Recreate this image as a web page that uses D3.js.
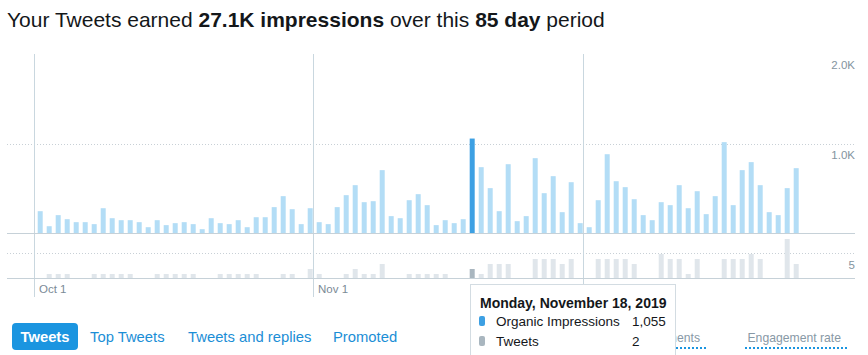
<!DOCTYPE html>
<html>
<head>
<meta charset="utf-8">
<script src="https://cdn.jsdelivr.net/npm/d3@7"></script>
<style>
  html, body { margin: 0; padding: 0; background: #fff; }
  svg { display: block; font-family: "Liberation Sans", Helvetica, Arial, sans-serif; }
</style>
</head>
<body>
<svg id="chart" width="868" height="355"></svg>
<script>
// ---------- data ----------
const startDate = new Date(2019, 9, 1);   // Oct 1, 2019
const dayCount = 85;
const impressions = [
  248, 81, 204, 159, 126, 126, 104, 281, 170, 148, 148, 126, 70, 148, 93, 115, 126, 104, 48, 170,
  115, 104, 148, 70, 181, 181, 293, 415, 270, 104, 281, 126, 104, 293, 426, 537, 348, 359, 704, 193,
  170, 370, 437, 315, 93, 148, 115, 159, 1055, 737, 504, 248, 770, 137, 193, 837, 448, 637, 237, 570,
  115, 70, 370, 881, 581, 515, 381, 204, 148, 348, 315, 537, 281, 470, 215, 415, 1015, 315, 704, 793,
  537, 237, 204, 504, 726
];
const tweets = [
  0, 1, 1, 1, 0, 0, 1, 1, 1, 1, 1, 0, 0, 1, 1, 1, 1, 1, 0, 0,
  1, 1, 1, 1, 1, 0, 0, 1, 1, 0, 2, 1, 0, 0, 1, 2, 1, 1, 3, 0,
  0, 1, 1, 1, 1, 1, 0, 0, 2, 1, 3, 3, 3, 0, 0, 4, 4, 4, 3, 4,
  0, 0, 4, 4, 4, 4, 3, 0, 0, 5, 4, 4, 1, 4, 0, 0, 4, 4, 4, 5,
  4, 0, 0, 8, 3
];
const impTicks = [1000, 2000];
const tweetTicks = [5];
const selectedIndex = 48;
const tabs = ["Tweets", "Top Tweets", "Tweets and replies", "Promoted"];
const metricLinks = ["Engagements", "Engagement rate"];

// ---------- scales ----------
const dates = d3.timeDay.range(startDate, d3.timeDay.offset(startDate, dayCount));
const svg = d3.select("#chart");
const left = 7, right = 855;
const xt = d3.scaleTime().domain([startDate, d3.timeDay.offset(startDate, dayCount)]).range([35, 800]);
const xb = d3.scaleBand().domain(dates.map(d => +d)).range([35, 800]).paddingInner(4 / 9).paddingOuter(2 / 9);
const yImp = d3.scaleLinear().domain([0, 2000]).range([233.5, 53.5]);
const yTw = d3.scaleLinear().domain([0, 5]).range([279, 254]);

// ---------- title ----------
const title = svg.append("text").attr("x", 7).attr("y", 27)
  .attr("font-size", 21).attr("fill", "#14171a");
title.append("tspan").text("Your Tweets earned ");
title.append("tspan").attr("font-weight", "bold").text(d3.format(".3~s")(d3.sum(impressions)).replace("k", "K") + " impressions");
title.append("tspan").text(" over this ");
title.append("tspan").attr("font-weight", "bold").text(dayCount + " day");
title.append("tspan").text(" period");

// ---------- grid ----------
svg.append("g").selectAll("line").data(impTicks.filter(t => t < 2000)).join("line")
  .attr("x1", left).attr("x2", right)
  .attr("y1", d => Math.round(yImp(d)) + 0.5).attr("y2", d => Math.round(yImp(d)) + 0.5)
  .attr("stroke", "#c8d0d6").attr("stroke-dasharray", "1,2");
svg.append("g").selectAll("line").data(tweetTicks).join("line")
  .attr("x1", left).attr("x2", right)
  .attr("y1", d => Math.round(yTw(d)) - 0.5).attr("y2", d => Math.round(yTw(d)) - 0.5)
  .attr("stroke", "#c8d0d6").attr("stroke-dasharray", "1,2");

// month lines
const months = xt.ticks(d3.timeMonth.every(1));
svg.append("g").selectAll("line").data(months).join("line")
  .attr("x1", d => Math.round(xt(d)) - 0.5).attr("x2", d => Math.round(xt(d)) - 0.5)
  .attr("y1", 54).attr("y2", 297)
  .attr("stroke", "#c9d7df").attr("stroke-width", 1);
svg.append("g").selectAll("text").data(months).join("text")
  .attr("x", d => xt(d) + 4).attr("y", 293)
  .attr("font-size", 11.5).attr("fill", "#7b8a96")
  .text(d3.timeFormat("%b %-d"));

// ---------- bars ----------
svg.append("g").selectAll("rect").data(impressions).join("rect")
  .attr("x", (d, i) => xb(+dates[i]) + 0.7)
  .attr("width", xb.bandwidth())
  .attr("y", d => yImp(d))
  .attr("height", d => yImp(0) - 0.5 - yImp(d))
  .attr("fill", (d, i) => i === selectedIndex ? "#3da0e3" : "#b3ddf6");

svg.append("g").selectAll("rect").data(tweets).join("rect")
  .attr("x", (d, i) => xb(+dates[i]) + 0.7)
  .attr("width", xb.bandwidth())
  .attr("y", d => yTw(d))
  .attr("height", d => Math.max(0, 278 - yTw(d)))
  .attr("fill", (d, i) => i === selectedIndex ? "#a9b6bf" : "#e0e6eb");

// baselines
svg.append("line").attr("x1", left).attr("x2", right).attr("y1", 233.5).attr("y2", 233.5)
  .attr("stroke", "#c6d1d8").attr("stroke-width", 1.2);
svg.append("line").attr("x1", left).attr("x2", right).attr("y1", 278.5).attr("y2", 278.5)
  .attr("stroke", "#c6d1d8").attr("stroke-width", 1.2);

// axis labels
svg.append("g").selectAll("text").data(impTicks).join("text")
  .attr("x", 855).attr("y", d => yImp(d) + 15).attr("text-anchor", "end")
  .attr("font-size", 11.5).attr("fill", "#8494a0")
  .text(d => d3.format(".1f")(d / 1000) + "K");
svg.append("g").selectAll("text").data(tweetTicks).join("text")
  .attr("x", 855).attr("y", d => yTw(d) + 15).attr("text-anchor", "end")
  .attr("font-size", 11.5).attr("fill", "#8494a0")
  .text(d => d);

// ---------- tabs ----------
svg.append("rect").attr("x", 12).attr("y", 323).attr("width", 66).attr("height", 27).attr("rx", 4)
  .attr("fill", "#1b95e0");
const tabX = [45, 90, 188, 333];
svg.append("g").selectAll("text").data(tabs).join("text")
  .attr("x", (d, i) => tabX[i]).attr("y", 342)
  .attr("text-anchor", (d, i) => i === 0 ? "middle" : "start")
  .attr("font-size", 14.8)
  .attr("font-weight", (d, i) => i === 0 ? "bold" : "normal")
  .attr("fill", (d, i) => i === 0 ? "#ffffff" : "#1b8ed6")
  .text(d => d);

// metric links (first one partly hidden behind the tooltip, as in the original)
svg.append("defs").append("clipPath").attr("id", "linkClip")
  .append("rect").attr("x", 676).attr("y", 300).attr("width", 192).attr("height", 55);
const linkRight = [700, 841];
const linkG = svg.append("g").attr("clip-path", "url(#linkClip)")
  .selectAll("g").data(metricLinks).join("g");
linkG.append("text").attr("x", (d, i) => linkRight[i]).attr("y", 342).attr("text-anchor", "end")
  .attr("font-size", 12.2).attr("fill", "#8899a6").text(d => d);
linkG.append("line")
  .attr("x1", (d, i) => i === 0 ? 620 : 745).attr("x2", (d, i) => i === 0 ? 706 : 847)
  .attr("y1", 348).attr("y2", 348)
  .attr("stroke", "#1b95e0").attr("stroke-width", 2).attr("stroke-dasharray", "2,2");

// ---------- tooltip ----------
const tip = svg.append("g");
tip.append("rect").attr("x", 470.5).attr("y", 284.5).attr("width", 205).attr("height", 90)
  .attr("fill", "#fff").attr("stroke", "#d3dce2");
tip.append("text").attr("x", 480).attr("y", 308).attr("font-size", 14).attr("font-weight", "bold")
  .attr("fill", "#14171a").text(d3.timeFormat("%A, %B %-d, %Y")(dates[selectedIndex]));
const rows = [
  { label: "Organic Impressions", value: d3.format(",")(impressions[selectedIndex]), color: "#3da0e3" },
  { label: "Tweets", value: d3.format(",")(tweets[selectedIndex]), color: "#a9b6bf" }
];
const row = tip.selectAll("g.row").data(rows).join("g").attr("class", "row")
  .attr("transform", (d, i) => `translate(0,${321 + i * 20})`);
row.append("rect").attr("x", 479).attr("y", -5).attr("width", 6).attr("height", 10).attr("rx", 2)
  .attr("fill", d => d.color);
row.append("text").attr("x", 496).attr("y", 5).attr("font-size", 13.5).attr("fill", "#14171a").text(d => d.label);
row.append("text").attr("x", 632).attr("y", 5).attr("font-size", 13.5).attr("fill", "#14171a").text(d => d.value);
</script>
</body>
</html>
